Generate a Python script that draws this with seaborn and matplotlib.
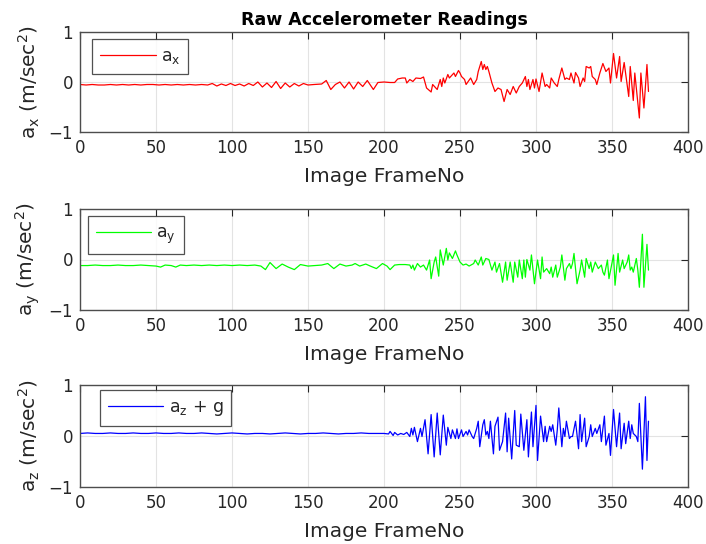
import matplotlib
matplotlib.use("Agg")
import matplotlib.pyplot as plt
import seaborn as sns
import pandas as pd

# ---- accelerometer readings per image frame ----
ax_frames = [0, 4, 8, 12, 16, 20, 24, 28, 32, 36, 40, 44, 48, 52, 56, 60, 64, 68, 72, 76, 80, 84,
             87, 90, 93, 96, 99, 102, 105, 108, 111, 114, 117, 120, 123, 126, 129, 132, 135, 138,
             141, 144, 147, 150, 154, 159, 162, 165, 168, 171, 174, 177, 180, 183, 186, 189, 193,
             196, 200, 204, 207, 209, 212, 214, 215, 217, 219, 221, 224, 226, 228, 231, 232, 235,
             237, 238, 239, 240, 242, 243, 246, 247, 249, 250, 251, 253, 254, 257, 259, 261, 262,
             263, 264, 265, 266, 267, 268, 269, 271, 273, 275, 277, 279, 281, 283, 285, 287, 289,
             291, 293, 294, 295, 296, 298, 299, 300, 302, 304, 306, 307, 309, 310, 312, 314, 315,
             317, 319, 320, 322, 323, 325, 326, 328, 329, 331, 332, 333, 335, 336, 337, 339, 340,
             342, 344, 346, 348, 349, 351, 353, 355, 356, 358, 361, 362, 364, 365, 368, 369, 371,
             373, 374]
ax_values = [-0.05, -0.06, -0.05, -0.06, -0.06, -0.05, -0.06, -0.05, -0.06, -0.05, -0.06, -0.05,
             -0.05, -0.06, -0.05, -0.06, -0.05, -0.06, -0.05, -0.06, -0.05, -0.06,
             -0.03, -0.08, -0.04, -0.07, -0.03, -0.07, -0.04, -0.08, -0.03, -0.07, 0.0, -0.10,
             -0.02, -0.11, 0.01, -0.13, -0.02, -0.10, -0.03, -0.08, -0.03, -0.06, -0.05, -0.04,
             0.03, -0.15, -0.05, 0.0, -0.12, 0.0, -0.14, 0.0, -0.09, 0.03, -0.15, -0.01, 0.0,
             -0.01, -0.01, 0.06, 0.08, 0.08, -0.02, 0.05, 0.01, 0.08, 0.07, 0.10, -0.12, -0.20,
             -0.05, -0.15, 0.05, -0.09, 0.08, -0.02, 0.15, 0.08, 0.18, 0.11, 0.23, 0.18, 0.11,
             0.05, -0.05, 0.08, -0.05, 0.05, 0.21, 0.31, 0.41, 0.25, 0.35, 0.25, 0.31, 0.21,
             -0.02, -0.19, -0.12, -0.15, -0.39, -0.15, -0.25, -0.09, -0.22, -0.09, -0.02, 0.11,
             -0.09, 0.05, -0.15, 0.05, -0.12, 0.06, -0.19, 0.18, -0.09, -0.05, -0.12, 0.08,
             -0.02, -0.09, 0.05, 0.28, 0.05, 0.08, 0.05, 0.18, -0.02, 0.19, 0.08, -0.09, 0.08,
             0.01, 0.31, 0.28, 0.31, 0.11, 0.05, -0.05, 0.18, 0.37, 0.21, 0.28, -0.02, 0.57,
             0.08, 0.51, 0.01, 0.39, -0.29, 0.31, -0.37, 0.18, -0.72, 0.18, -0.52, 0.35, -0.19]

ay_frames = [0, 5, 10, 15, 20, 25, 30, 35, 40, 45, 50, 53, 56, 60, 63, 66, 70, 75, 80, 85, 90, 95,
             100, 105, 110, 115, 119, 122, 125, 129, 133, 137, 141, 145, 150, 155, 159, 163, 167,
             171, 175, 179, 181, 184, 188, 191, 195, 199, 202, 204, 207, 210, 214, 217, 218, 219,
             220, 222, 224, 226, 228, 230, 231, 233, 234, 236, 237, 239, 241, 242, 243, 245, 247,
             248, 250, 252, 254, 256, 259, 260, 262, 264, 265, 267, 269, 271, 273, 274, 276, 278,
             280, 281, 283, 285, 286, 288, 289, 291, 292, 293, 294, 296, 297, 299, 301, 303, 304,
             305, 307, 309, 310, 311, 313, 314, 316, 317, 319, 320, 322, 323, 324, 325, 327, 329,
             330, 332, 333, 335, 336, 337, 339, 341, 343, 344, 345, 347, 348, 351, 352, 354, 355,
             357, 358, 360, 361, 362, 363, 364, 366, 367, 368, 370, 371, 373, 374]
ay_values = [-0.12, -0.12, -0.11, -0.12, -0.12, -0.11, -0.12, -0.12, -0.11, -0.12, -0.13, -0.15,
             -0.11, -0.12, -0.15, -0.11, -0.12, -0.11, -0.12, -0.11, -0.12, -0.11, -0.12, -0.11,
             -0.12, -0.11, -0.13, -0.20, -0.06, -0.18, -0.09, -0.15, -0.20, -0.10, -0.13, -0.12,
             -0.11, -0.08, -0.18, -0.09, -0.13, -0.11, -0.08, -0.13, -0.09, -0.13, -0.18, -0.08,
             -0.13, -0.20, -0.11, -0.10, -0.10, -0.11, -0.18, -0.11, -0.21, -0.08, -0.15, -0.11,
             -0.21, -0.01, -0.38, -0.05, 0.05, -0.33, 0.19, -0.11, 0.22, -0.01, 0.13, 0.02, 0.17,
             0.09, -0.05, -0.11, -0.09, -0.13, -0.08, -0.01, -0.11, 0.05, -0.11, 0.02, 0.0, -0.21,
             -0.05, -0.25, -0.08, -0.45, -0.05, -0.41, -0.05, -0.45, -0.05, -0.35, -0.01, -0.38,
             -0.01, -0.35, 0.0, -0.21, 0.09, -0.48, -0.01, -0.38, 0.05, -0.25, -0.18, -0.28, -0.15,
             -0.35, -0.11, -0.35, -0.15, 0.09, -0.41, -0.18, -0.08, -0.18, -0.08, 0.12, -0.48,
             -0.21, -0.01, -0.35, 0.02, -0.18, -0.05, -0.25, -0.05, -0.18, -0.11, -0.25, -0.31,
             -0.01, -0.38, 0.09, -0.51, 0.12, -0.25, -0.01, -0.18, -0.05, 0.09, -0.21, -0.15,
             -0.25, 0.02, -0.21, -0.55, 0.50, -0.55, 0.30, -0.21]

az_frames = [0, 5, 10, 15, 20, 25, 30, 35, 40, 45, 50, 55, 60, 65, 70, 75, 80, 85, 90, 95, 100,
             105, 110, 115, 120, 125, 130, 135, 140, 145, 150, 155, 160, 165, 170, 175, 180, 185,
             190, 195, 200, 203, 204, 206, 207, 209, 211, 213, 215, 217, 218, 219, 220, 222, 224,
             225, 227, 229, 231, 233, 235, 237, 239, 241, 242, 244, 245, 247, 248, 249, 251, 252,
             254, 255, 256, 258, 259, 261, 262, 263, 265, 266, 267, 268, 269, 270, 272, 273, 275,
             276, 278, 280, 281, 282, 284, 286, 287, 289, 290, 292, 294, 295, 297, 298, 300, 301,
             303, 305, 306, 307, 309, 310, 311, 313, 314, 315, 317, 318, 319, 320, 322, 323, 324,
             326, 328, 329, 330, 332, 333, 335, 336, 337, 339, 340, 342, 343, 345, 346, 348, 349,
             351, 353, 355, 356, 358, 359, 361, 362, 363, 364, 366, 367, 368, 370, 372, 373, 374]
az_values = [0.05, 0.06, 0.05, 0.05, 0.06, 0.05, 0.05, 0.06, 0.05, 0.05, 0.06, 0.05, 0.05, 0.06,
             0.05, 0.05, 0.06, 0.05, 0.04, 0.05, 0.06, 0.05, 0.04, 0.05, 0.05, 0.04, 0.05, 0.06,
             0.05, 0.04, 0.05, 0.05, 0.06, 0.05, 0.04, 0.05, 0.05, 0.06, 0.05, 0.05, 0.05, 0.04,
             0.09, 0.01, 0.07, 0.02, 0.05, 0.03, 0.07, -0.01, 0.15, 0.02, 0.17, -0.11, 0.15,
             -0.01, 0.32, -0.35, 0.42, -0.41, 0.45, -0.37, 0.41, -0.18, 0.17, -0.05, 0.12, -0.05,
             0.14, -0.05, 0.12, -0.01, 0.09, 0.02, 0.12, -0.01, -0.05, 0.15, 0.29, -0.21, 0.22,
             0.32, 0.02, 0.09, -0.05, 0.29, -0.35, 0.19, 0.37, -0.28, -0.11, 0.45, -0.31, 0.35,
             -0.45, 0.50, -0.18, -0.21, 0.43, -0.28, 0.32, -0.41, 0.47, -0.21, 0.60, -0.48, 0.39,
             -0.11, 0.19, -0.11, 0.19, 0.09, 0.22, -0.18, 0.12, 0.55, -0.21, 0.15, -0.01, 0.29,
             -0.05, -0.01, -0.01, 0.29, -0.25, 0.42, -0.11, 0.35, -0.21, -0.01, 0.22, -0.01, 0.15,
             0.05, 0.22, -0.11, 0.39, -0.18, 0.05, -0.38, 0.52, -0.21, 0.45, -0.25, 0.25, -0.15,
             0.29, -0.05, 0.22, 0.05, -0.01, -0.11, 0.64, -0.65, 0.77, -0.48, 0.29]

series = [
    ("x", ax_frames, ax_values, "#ff0000", r"$\mathregular{a_x}$", (0.02, 0.93)),
    ("y", ay_frames, ay_values, "#00ff00", r"$\mathregular{a_y}$", (0.013, 0.93)),
    ("z", az_frames, az_values, "#0000ff", r"$\mathregular{a_z}$ + g", (0.033, 0.95)),
]

x_ticks = [0, 50, 100, 150, 200, 250, 300, 350, 400]
y_ticks = [-1, 0, 1]

sns.set_style("white")
plt.rcParams["font.family"] = ["DejaVu Sans"]
plt.rcParams["mathtext.default"] = "regular"

fig = plt.figure(figsize=(7.06, 5.44), dpi=100)
rects = [
    [80 / 706, 1 - 132 / 544, 608 / 706, 100 / 544],
    [80 / 706, 1 - 310 / 544, 608 / 706, 101 / 544],
    [80 / 706, 1 - 487 / 544, 608 / 706, 102 / 544],
]

text_color = "#262626"
for (axis_name, frames, values, color, label, anchor), rect in zip(series, rects):
    ax = fig.add_axes(rect)
    df = pd.DataFrame({"frame": frames, "value": values})
    sns.lineplot(data=df, x="frame", y="value", ax=ax, color=color, lw=0.9,
                 label=label, estimator=None, sort=False)
    ax.set_xlim(0, 400)
    ax.set_ylim(-1, 1)
    ax.set_xticks(x_ticks)
    ax.set_yticks(y_ticks)
    ax.grid(True, color="#e3e3e3", lw=0.8)
    ax.set_axisbelow(True)
    ax.tick_params(direction="in", length=5, width=0.8, top=True, right=True,
                   labelsize=12, colors=text_color, pad=5)
    for sp in ax.spines.values():
        sp.set_visible(True)
        sp.set_color("#4d4d4d")
        sp.set_linewidth(1.0)
    ax.set_xlabel("Image FrameNo", fontsize=14.5, color=text_color, labelpad=7)
    ax.set_ylabel(r"$\mathregular{a_%s}$ (m/sec$^\mathregular{2}$)" % axis_name,
                  fontsize=14.5, color=text_color, labelpad=5)
    leg = ax.legend(loc="upper left", bbox_to_anchor=anchor, fontsize=12.5,
                    handlelength=3.2, frameon=True, fancybox=False,
                    borderpad=0.45, handletextpad=0.3, borderaxespad=0)
    leg.get_frame().set_edgecolor(text_color)
    leg.get_frame().set_linewidth(0.9)
    for t in leg.get_texts():
        t.set_color(text_color)
    if axis_name == "x":
        ax.set_title("Raw Accelerometer Readings", fontsize=12.5, fontweight="bold",
                     color="black", pad=5)

fig.savefig("out.png", dpi=100, facecolor="white")
